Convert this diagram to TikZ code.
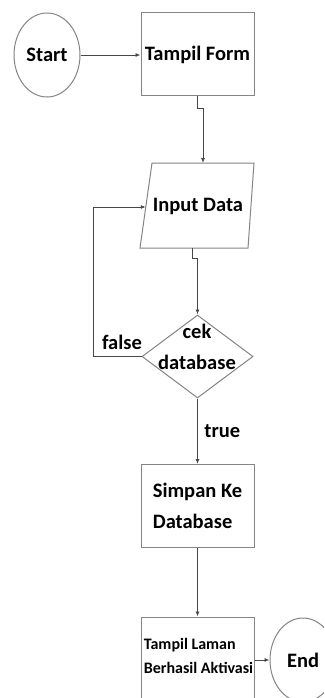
\documentclass[tikz,border=0pt]{standalone}
\usepackage{fontspec}
\setmainfont{Carlito}
\usetikzlibrary{shapes.geometric,arrows.meta}
\begin{document}
\begin{tikzpicture}[x=1pt,y=-1pt,
  shapeline/.style={draw=black!48, line width=1pt},
  conn/.style={draw=black!72, line width=0.9pt, -{Latex[length=5pt,width=4pt]}},
  bigtxt/.style={font=\fontsize{20.5}{31}\selectfont\bfseries, inner sep=0pt},
  smalltxt/.style={font=\fontsize{16}{24}\selectfont\bfseries, inner sep=0pt},
  terminal/.style={ellipse, shapeline, minimum width=66pt, minimum height=84pt, inner sep=0pt},
  procbox/.style={rectangle, shapeline, minimum width=113pt, minimum height=83pt, inner sep=0pt},
  decision/.style={diamond, shapeline, minimum width=111pt, minimum height=83pt, inner sep=0pt}]
\clip (0,0) rectangle (324,698);
\fill[white] (0,0) rectangle (324,698);

% terminals and process boxes
\node[terminal, bigtxt] (start) at (47,55) {Start};
\node[procbox, bigtxt] (form) at (197.5,54.5) {Tampil Form};

% input parallelogram
\coordinate (inTL) at (152,163);
\coordinate (inTR) at (254,163);
\coordinate (inBR) at (248,248);
\coordinate (inBL) at (140,248);
\draw[shapeline] (inTL) -- (inTR) -- (inBR) -- (inBL) -- cycle;
\node[bigtxt] (input) at (198,206) {Input Data};
\coordinate (inTop) at (203,163);
\coordinate (inBot) at (192,248);
\coordinate (inLeft) at (145.8,207);

% decision
\node[decision] (dec) at (197.5,356.5) {};
\node[bigtxt, align=center] (dectext) at (197,347) {cek\\database};

\node[procbox, bigtxt, align=left] (save) at (197.5,506) {Simpan Ke\\Database};

\node[procbox, minimum height=100pt] (laman) at (197.5,667) {};
\node[smalltxt, align=left] (lamantext) at (198.5,656) {Tampil Laman\\Berhasil Aktivasi};

\node[terminal, bigtxt] (end) at (303,660) {End};

% connectors
\draw[conn] (start.east) -- (start.east -| form.west);
\draw[conn] (form.south) -- ++(0,12) -| (inTop);
\draw[conn] (inBot) -- ++(0,10) -| (dec.north);
\draw[conn] (dec.west) -- ++(-48,0) |- (inLeft);
\node[bigtxt] (flabel) at (122,342) {false};
\draw[conn] (dec.south) -- (save.north)
  node[midway, right=6.5pt, bigtxt] (tlabel) {true};
\draw[conn] (save.south) -- (laman.north);
\draw[conn] (end.west -| laman.east) -- (end.west);
\end{tikzpicture}
\end{document}
